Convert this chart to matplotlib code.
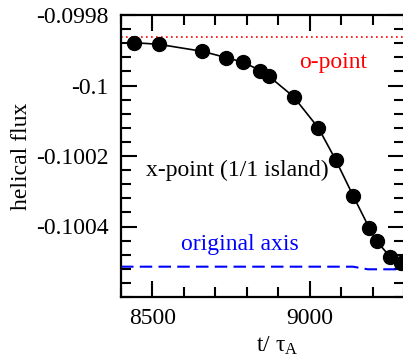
import matplotlib
matplotlib.use("Agg")
import matplotlib.pyplot as plt
from matplotlib.ticker import MultipleLocator, FixedLocator

plt.rcParams['font.family'] = ['Liberation Serif', 'DejaVu Serif']
plt.rcParams['mathtext.fontset'] = 'custom'
plt.rcParams['mathtext.rm'] = 'Liberation Serif'
plt.rcParams['mathtext.it'] = 'Liberation Serif:italic'

# x-point (1/1 island) data
t_x = [8442, 8520, 8658, 8735, 8789, 8843, 8870, 8948, 9027, 9082, 9137, 9188, 9212, 9254, 9288]
flux_x = [-0.0998786, -0.0998831, -0.0999030, -0.0999211, -0.0999342, -0.0999580, -0.0999739,
          -0.1000318, -0.1001206, -0.1002113, -0.1003126, -0.1004034, -0.1004411, -0.1004857, -0.1005043]

# o-point
t_o = [8400, 9300]
flux_o = [-0.0998616, -0.0998616]

# original axis
t_ax = [8400, 9137, 9184, 9300]
flux_ax = [-0.100514, -0.100514, -0.1005214, -0.1005214]

xticks = [8500, 9000]
yticks = [-0.0998, -0.1, -0.1002, -0.1004]
ytick_labels = ['-0.0998', '-0.1', '-0.1002', '-0.1004']

fig = plt.figure(figsize=(4.03, 3.63), dpi=100)
ax = fig.add_axes([121/403, 1-297/363, (404.4-121)/403, (297-15)/363])

ax.plot(t_o, flux_o, color='red', ls=(0, (1, 2)), lw=1.2)
ax.plot(t_ax, flux_ax, color='blue', ls=(0, (6, 3)), lw=1.5)
ax.plot(t_x, flux_x, color='black', lw=1.2, marker='o', ms=10)

ax.set_xlim(8400, 9300)
ax.set_ylim(-0.1006, -0.0998)
ax.xaxis.set_major_locator(FixedLocator(xticks))
ax.xaxis.set_minor_locator(MultipleLocator(100))
ax.yaxis.set_major_locator(FixedLocator(yticks))
ax.set_yticklabels(ytick_labels)
ax.yaxis.set_minor_locator(MultipleLocator(0.00004))

ax.tick_params(which='both', direction='in', top=True, right=True, width=1.5, labelsize=17)
ax.tick_params(axis='x', which='both', pad=8)
ax.tick_params(axis='y', which='both', pad=9)
ax.tick_params(which='major', length=11.5)
ax.tick_params(which='minor', length=7)
for s in ax.spines.values():
    s.set_linewidth(1.6)

ax.set_xlabel(r't/ $\mathregular{\tau}_{\mathregular{A}}$', fontsize=17)
ax.xaxis.set_label_coords(0.55, -0.135)
ax.set_ylabel('helical flux', fontsize=17)
ax.yaxis.set_label_coords(-0.314, 0.5)

ax.text(9074, -0.09995035, 'o-point', color='red', fontsize=17, ha='center', va='baseline')
ax.text(8768, -0.10025674, 'x-point (1/1 island)', color='black', fontsize=17, ha='center', va='baseline')
ax.text(8778, -0.10046667, 'original axis', color='blue', fontsize=17, ha='center', va='baseline')

fig.savefig('out.png', dpi=100)
